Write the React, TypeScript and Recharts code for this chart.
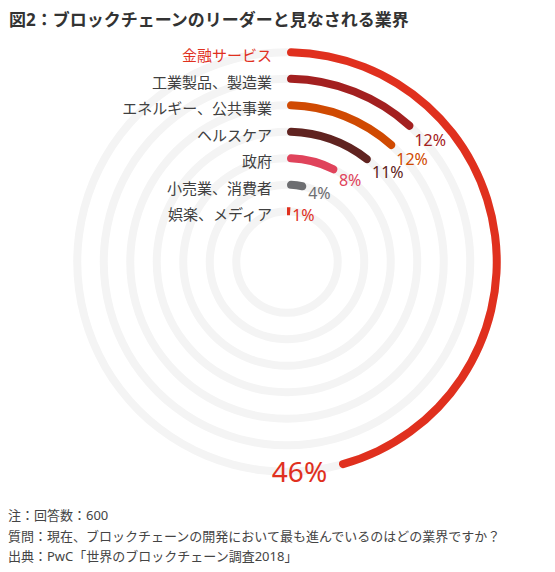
import React from 'react';
import { Cell, PolarAngleAxis, PolarRadiusAxis, RadialBar, RadialBarChart } from 'recharts';

const categories = [
  '金融サービス',
  '工業製品、製造業',
  'エネルギー、公共事業',
  'ヘルスケア',
  '政府',
  '小売業、消費者',
  '娯楽、メディア',
];
const shares = [46, 12, 12, 11, 8, 4, 1];
const colors = ['#e0301e', '#a32020', '#d04a02', '#602320', '#e0435b', '#6d6e71', '#e0301e'];

const title = '図2：ブロックチェーンのリーダーと見なされる業界';
const notes = [
  '注：回答数：600',
  '質問：現在、ブロックチェーンの開発において最も進んでいるのはどの業界ですか？',
  '出典：PwC「世界のブロックチェーン調査2018」',
];

// innermost ring first for the radius axis
const rows = categories
  .map((name, i) => ({ name, value: shares[i], color: colors[i] }))
  .reverse();

const FONT = "'Noto Sans', 'Noto Sans CJK JP', sans-serif";

const CategoryTick = (props: any) => {
  const { x, y, payload } = props;
  const lead = payload.value === categories[0];
  return (
    <text
      x={x - 15}
      y={y + 3}
      textAnchor="end"
      dominantBaseline="central"
      fontSize={15}
      fontFamily={FONT}
      fill={lead ? '#e0301e' : '#404040'}
    >
      {payload.value}
    </text>
  );
};

const ValueLabel = (props: any) => {
  const { viewBox, value, index } = props;
  if (!viewBox) return null;
  const { cx, cy, innerRadius, outerRadius, endAngle } = viewBox;
  const row = rows[index];
  const r = (innerRadius + outerRadius) / 2;
  const rad = (endAngle * Math.PI) / 180;
  const ex = cx + r * Math.cos(rad);
  const ey = cy - r * Math.sin(rad);
  const theta = ((90 - endAngle) * Math.PI) / 180;
  const right = Math.cos(theta) >= 0;
  const lead = row.name === categories[0];
  return (
    <text
      x={ex + (right ? 2 : -12)}
      y={ey + 12 * Math.sin(theta) + 3}
      textAnchor={right ? 'start' : 'end'}
      dominantBaseline="central"
      fontSize={lead ? 28 : 16}
      fontFamily={FONT}
      fill={row.color}
    >
      {`${value}%`}
    </text>
  );
};

export default function App() {
  return (
    <div style={{ position: 'absolute', left: 0, top: 0, width: 555, height: 572, background: '#fff', fontFamily: FONT }}>
      <RadialBarChart
        width={555}
        height={572}
        cx={287}
        cy={262}
        innerRadius={37.75}
        outerRadius={223.25}
        startAngle={90}
        endAngle={-270}
        data={rows}
        barSize={8}
      >
        <PolarAngleAxis type="number" domain={[0, 100]} tick={false} axisLine={false} />
        <PolarRadiusAxis
          type="category"
          dataKey="name"
          angle={90}
          axisLine={false}
          tickLine={false}
          tick={<CategoryTick />}
        />
        <RadialBar
          dataKey="value"
          cornerRadius={4}
          background={{ fill: '#f4f4f4' }}
          isAnimationActive={false}
          label={{ content: <ValueLabel /> }}
        >
          {rows.map((row, i) => (
            <Cell key={`cell-${i}`} fill={row.color} />
          ))}
        </RadialBar>
      </RadialBarChart>
      <div style={{ position: 'absolute', left: 9, top: 6, fontSize: 17, fontWeight: 'bold', color: '#333' }}>
        {title}
      </div>
      <div style={{ position: 'absolute', left: 8, top: 505, fontSize: 13, lineHeight: '20.5px', color: '#444' }}>
        {notes.map((n) => (
          <div key={n}>{n}</div>
        ))}
      </div>
    </div>
  );
}
